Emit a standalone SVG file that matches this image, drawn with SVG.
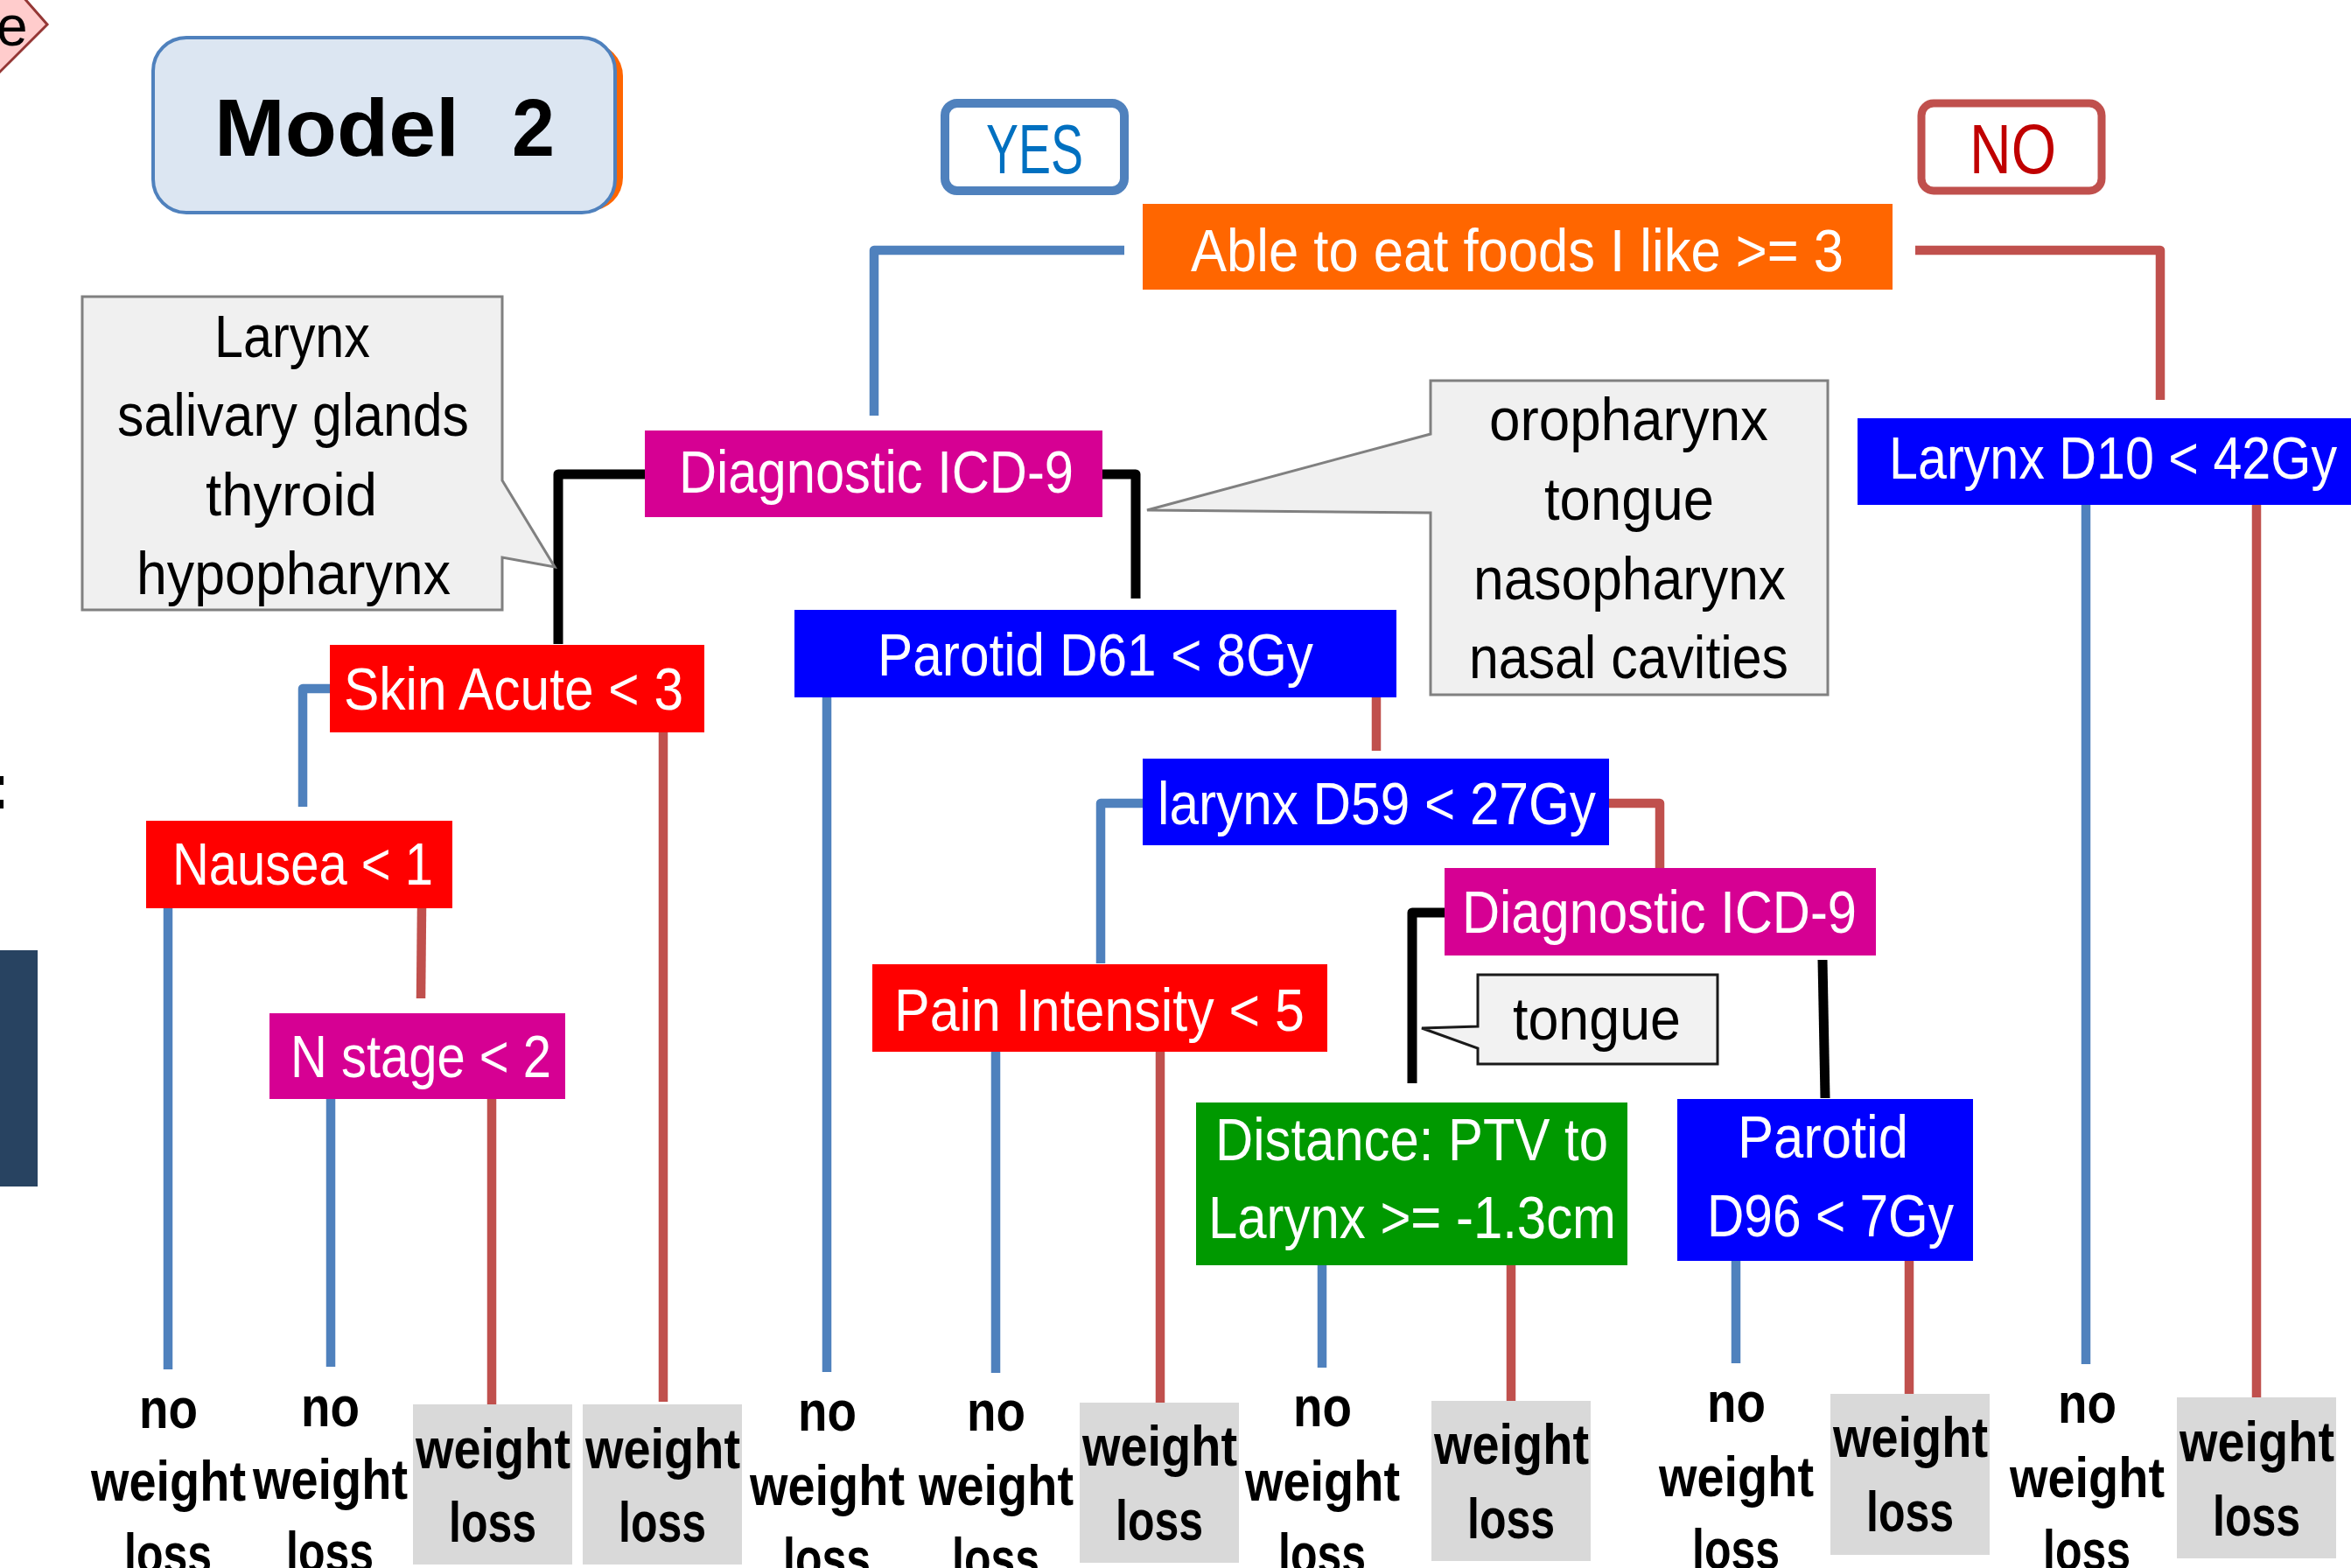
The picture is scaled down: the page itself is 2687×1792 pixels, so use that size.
<svg xmlns="http://www.w3.org/2000/svg" width="2687" height="1792" viewBox="0 0 2687 1792">
<style>
text{font-family:"Liberation Sans Narrow","Arial Narrow","Liberation Sans",Arial,sans-serif;}
.n{font-size:68px;fill:#fff}
.c{font-size:68px;fill:#000}
.lf{font-size:64px;font-weight:bold;fill:#000}
.cn{fill:none;stroke-width:10.5;stroke-linejoin:round}
.b{stroke:#4F81BD}
.r{stroke:#C0504D}
.k{stroke:#000;stroke-width:11}
.leafbox{fill:#D9D9D9}
.call{fill:#F0F0F0;stroke:#808080;stroke-width:3}
</style>
<rect width="2687" height="1792" fill="#fff"/>

<!-- edge fragments -->
<g id="edge-fragments">
<polygon points="-10,-45 54,28 -10,92" fill="#FFCCCC" stroke="#953735" stroke-width="3"/>
<text x="-4" y="52" style="font-size:64px;fill:#000">e</text>
<text x="-13" y="924" style="font-size:72px;font-weight:bold;fill:#000">:</text>
<rect x="0" y="1086" width="43" height="270" fill="#284361"/>
</g>

<!-- title -->
<g id="title">
<rect x="184" y="49" width="528" height="192" rx="38" fill="#FF6600"/>
<rect x="175" y="43" width="528" height="200" rx="38" fill="#DCE6F2" stroke="#4F81BD" stroke-width="4"/>
<text x="245" y="178" textLength="280" lengthAdjust="spacingAndGlyphs" style="font-size:93px;font-weight:bold;fill:#000">Model</text>
<text x="585" y="178" textLength="49" lengthAdjust="spacingAndGlyphs" style="font-size:93px;font-weight:bold;fill:#000">2</text>
</g>

<g id="yes-label">
<rect x="1080" y="118" width="205" height="100" rx="14" fill="#fff" stroke="#4F81BD" stroke-width="10"/>
<text x="1127" y="198" textLength="111" lengthAdjust="spacingAndGlyphs" style="font-size:80px;fill:#0070C0">YES</text>
</g>
<g id="no-label">
<rect x="2196" y="118" width="206" height="100" rx="14" fill="#fff" stroke="#C0504D" stroke-width="9"/>
<text x="2251" y="198" textLength="99" lengthAdjust="spacingAndGlyphs" style="font-size:80px;fill:#C00000">NO</text>
</g>

<!-- connectors -->
<g id="connectors">
<path class="cn b" d="M1285,286 H999 V475"/>
<path class="cn r" d="M2189,286 H2469 V457"/>
<path class="cn k" d="M737,542 H638 V736"/>
<path class="cn k" d="M1260,542 H1298 V684"/>
<path class="cn b" d="M377,787 H346 V922"/>
<path class="cn r" d="M758,837 V1602"/>
<path class="cn b" d="M192,1038 V1565"/>
<path class="cn r" d="M482,1038 L481,1141"/>
<path class="cn b" d="M378,1256 V1562"/>
<path class="cn r" d="M562,1256 V1605"/>
<path class="cn b" d="M945,797 V1568"/>
<path class="cn r" d="M1573,797 V858"/>
<path class="cn b" d="M1306,918 H1258 V1101"/>
<path class="cn r" d="M1839,918 H1897 V992"/>
<path class="cn b" d="M1138,1202 V1569"/>
<path class="cn r" d="M1326,1202 V1603"/>
<path class="cn k" d="M1651,1043 H1614 V1238"/>
<path class="cn k" d="M2083,1097 L2086,1255"/>
<path class="cn b" d="M1511,1446 V1563"/>
<path class="cn r" d="M1727,1446 V1601"/>
<path class="cn b" d="M1984,1441 V1558"/>
<path class="cn r" d="M2182,1441 V1593"/>
<path class="cn b" d="M2384,577 V1559"/>
<path class="cn r" d="M2579,577 V1597"/>
</g>

<!-- callouts -->
<g id="callout-left">
<path class="call" d="M94,339 H574 V549 L634,648 L574,637 V697 H94 Z"/>
<text class="c" x="245" y="408" textLength="178" lengthAdjust="spacingAndGlyphs">Larynx</text>
<text class="c" x="134" y="498" textLength="402" lengthAdjust="spacingAndGlyphs">salivary glands</text>
<text class="c" x="235" y="589" textLength="196" lengthAdjust="spacingAndGlyphs">thyroid</text>
<text class="c" x="156" y="679" textLength="359" lengthAdjust="spacingAndGlyphs">hypopharynx</text>
</g>
<g id="callout-right">
<path class="call" d="M1635,435 H2089 V794 H1635 V586 L1311,583 L1635,496 Z"/>
<text class="c" x="1702" y="503" textLength="319" lengthAdjust="spacingAndGlyphs">oropharynx</text>
<text class="c" x="1765" y="594" textLength="194" lengthAdjust="spacingAndGlyphs">tongue</text>
<text class="c" x="1684" y="685" textLength="357" lengthAdjust="spacingAndGlyphs">nasopharynx</text>
<text class="c" x="1679" y="775" textLength="365" lengthAdjust="spacingAndGlyphs">nasal cavities</text>
</g>
<g id="callout-tongue">
<path d="M1689,1114 H1963 V1216 H1689 V1198 L1625,1175 L1689,1173 Z" fill="#F2F2F2" stroke="#1a1a1a" stroke-width="3"/>
<text class="c" x="1729" y="1188" textLength="192" lengthAdjust="spacingAndGlyphs">tongue</text>
</g>

<!-- decision nodes -->
<g id="node-root">
<rect x="1306" y="233" width="857" height="98" fill="#FF6600"/>
<text class="n" x="1361" y="310" textLength="746" lengthAdjust="spacingAndGlyphs">Able to eat foods I like &gt;= 3</text>
</g>
<g id="node-diag1">
<rect x="737" y="492" width="523" height="99" fill="#D60093"/>
<text class="n" x="776" y="563" textLength="451" lengthAdjust="spacingAndGlyphs">Diagnostic ICD-9</text>
</g>
<g id="node-larynx-d10">
<rect x="2123" y="478" width="570" height="99" fill="#0000FF"/>
<text class="n" x="2159" y="547" textLength="512" lengthAdjust="spacingAndGlyphs">Larynx D10 &lt; 42Gy</text>
</g>
<g id="node-skin">
<rect x="377" y="737" width="428" height="100" fill="#FF0000"/>
<text class="n" x="393" y="811" textLength="388" lengthAdjust="spacingAndGlyphs">Skin Acute &lt; 3</text>
</g>
<g id="node-nausea">
<rect x="167" y="938" width="350" height="100" fill="#FF0000"/>
<text class="n" x="197" y="1011" textLength="298" lengthAdjust="spacingAndGlyphs">Nausea &lt; 1</text>
</g>
<g id="node-nstage">
<rect x="308" y="1158" width="338" height="98" fill="#D60093"/>
<text class="n" x="332" y="1231" textLength="298" lengthAdjust="spacingAndGlyphs">N stage &lt; 2</text>
</g>
<g id="node-parotid-d61">
<rect x="908" y="697" width="688" height="100" fill="#0000FF"/>
<text class="n" x="1003" y="772" textLength="498" lengthAdjust="spacingAndGlyphs">Parotid D61 &lt; 8Gy</text>
</g>
<g id="node-larynx-d59">
<rect x="1306" y="867" width="533" height="99" fill="#0000FF"/>
<text class="n" x="1323" y="942" textLength="501" lengthAdjust="spacingAndGlyphs">larynx D59 &lt; 27Gy</text>
</g>
<g id="node-pain">
<rect x="997" y="1102" width="520" height="100" fill="#FF0000"/>
<text class="n" x="1022" y="1178" textLength="469" lengthAdjust="spacingAndGlyphs">Pain Intensity &lt; 5</text>
</g>
<g id="node-diag2">
<rect x="1651" y="992" width="493" height="100" fill="#D60093"/>
<text class="n" x="1671" y="1066" textLength="451" lengthAdjust="spacingAndGlyphs">Diagnostic ICD-9</text>
</g>
<g id="node-distance">
<rect x="1367" y="1260" width="493" height="186" fill="#009900"/>
<text class="n" x="1389" y="1326" textLength="449" lengthAdjust="spacingAndGlyphs">Distance: PTV to</text>
<text class="n" x="1381" y="1415" textLength="466" lengthAdjust="spacingAndGlyphs">Larynx &gt;= -1.3cm</text>
</g>
<g id="node-parotid-d96">
<rect x="1917" y="1256" width="338" height="185" fill="#0000FF"/>
<text class="n" x="1986" y="1323" textLength="195" lengthAdjust="spacingAndGlyphs">Parotid</text>
<text class="n" x="1951" y="1413" textLength="282" lengthAdjust="spacingAndGlyphs">D96 &lt; 7Gy</text>
</g>

<!-- leaves: "no" width 67, "weight" width 177, "loss" width 100 -->
<g id="leaf-1"><text class="lf" x="159" y="1632" textLength="67" lengthAdjust="spacingAndGlyphs">no</text><text class="lf" x="104" y="1715" textLength="177" lengthAdjust="spacingAndGlyphs">weight</text><text class="lf" x="142" y="1798" textLength="100" lengthAdjust="spacingAndGlyphs">loss</text></g>
<g id="leaf-2"><text class="lf" x="344" y="1630" textLength="67" lengthAdjust="spacingAndGlyphs">no</text><text class="lf" x="289" y="1713" textLength="177" lengthAdjust="spacingAndGlyphs">weight</text><text class="lf" x="327" y="1796" textLength="100" lengthAdjust="spacingAndGlyphs">loss</text></g>
<g id="leaf-3"><rect class="leafbox" x="472" y="1605" width="182" height="183"/><text class="lf" x="475" y="1678" textLength="177" lengthAdjust="spacingAndGlyphs">weight</text><text class="lf" x="513" y="1762" textLength="100" lengthAdjust="spacingAndGlyphs">loss</text></g>
<g id="leaf-4"><rect class="leafbox" x="666" y="1605" width="182" height="183"/><text class="lf" x="669" y="1678" textLength="177" lengthAdjust="spacingAndGlyphs">weight</text><text class="lf" x="707" y="1762" textLength="100" lengthAdjust="spacingAndGlyphs">loss</text></g>
<g id="leaf-5"><text class="lf" x="912" y="1635" textLength="67" lengthAdjust="spacingAndGlyphs">no</text><text class="lf" x="857" y="1720" textLength="177" lengthAdjust="spacingAndGlyphs">weight</text><text class="lf" x="895" y="1803" textLength="100" lengthAdjust="spacingAndGlyphs">loss</text></g>
<g id="leaf-6"><text class="lf" x="1105" y="1635" textLength="67" lengthAdjust="spacingAndGlyphs">no</text><text class="lf" x="1050" y="1720" textLength="177" lengthAdjust="spacingAndGlyphs">weight</text><text class="lf" x="1088" y="1803" textLength="100" lengthAdjust="spacingAndGlyphs">loss</text></g>
<g id="leaf-7"><rect class="leafbox" x="1234" y="1603" width="182" height="183"/><text class="lf" x="1237" y="1675" textLength="177" lengthAdjust="spacingAndGlyphs">weight</text><text class="lf" x="1275" y="1760" textLength="100" lengthAdjust="spacingAndGlyphs">loss</text></g>
<g id="leaf-8"><text class="lf" x="1478" y="1630" textLength="67" lengthAdjust="spacingAndGlyphs">no</text><text class="lf" x="1423" y="1715" textLength="177" lengthAdjust="spacingAndGlyphs">weight</text><text class="lf" x="1461" y="1798" textLength="100" lengthAdjust="spacingAndGlyphs">loss</text></g>
<g id="leaf-9"><rect class="leafbox" x="1636" y="1601" width="182" height="183"/><text class="lf" x="1639" y="1673" textLength="177" lengthAdjust="spacingAndGlyphs">weight</text><text class="lf" x="1677" y="1758" textLength="100" lengthAdjust="spacingAndGlyphs">loss</text></g>
<g id="leaf-10"><text class="lf" x="1951" y="1625" textLength="67" lengthAdjust="spacingAndGlyphs">no</text><text class="lf" x="1896" y="1710" textLength="177" lengthAdjust="spacingAndGlyphs">weight</text><text class="lf" x="1934" y="1793" textLength="100" lengthAdjust="spacingAndGlyphs">loss</text></g>
<g id="leaf-11"><rect class="leafbox" x="2092" y="1593" width="182" height="184"/><text class="lf" x="2095" y="1665" textLength="177" lengthAdjust="spacingAndGlyphs">weight</text><text class="lf" x="2133" y="1750" textLength="100" lengthAdjust="spacingAndGlyphs">loss</text></g>
<g id="leaf-12"><text class="lf" x="2352" y="1626" textLength="67" lengthAdjust="spacingAndGlyphs">no</text><text class="lf" x="2297" y="1711" textLength="177" lengthAdjust="spacingAndGlyphs">weight</text><text class="lf" x="2335" y="1794" textLength="100" lengthAdjust="spacingAndGlyphs">loss</text></g>
<g id="leaf-13"><rect class="leafbox" x="2488" y="1597" width="182" height="184"/><text class="lf" x="2491" y="1670" textLength="177" lengthAdjust="spacingAndGlyphs">weight</text><text class="lf" x="2529" y="1755" textLength="100" lengthAdjust="spacingAndGlyphs">loss</text></g>
</svg>
